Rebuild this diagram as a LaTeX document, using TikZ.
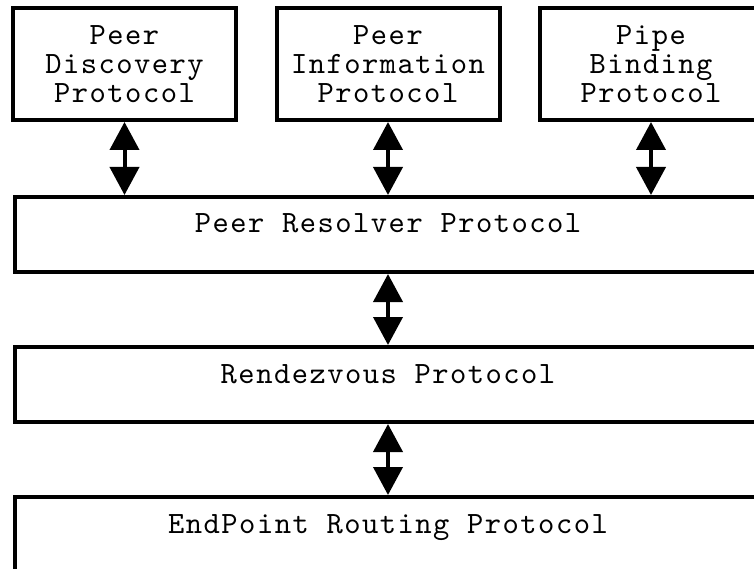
\documentclass[tikz,border=0pt]{standalone}
\usepackage{fontspec}
\newfontfamily\lmmono{lmmono10-regular.otf}[LetterSpace=4.8]
\usetikzlibrary{arrows.meta}
\newcommand\protofont{\lmmono\fontsize{31}{28.7}\selectfont}
\tikzset{
  proto/.style = {
    draw, line width=4pt, align=center,
    minimum width=223pt, minimum height=112pt, inner sep=0pt,
    font=\protofont
  },
  layer/.style = {
    draw, line width=4pt, anchor=north west,
    minimum width=800pt, minimum height=75pt, inner sep=0pt
  },
  ptext/.style = {
    anchor=base, inner sep=0pt,
    font=\protofont
  },
  biarrow/.style = {
    {Triangle[length=28pt,width=29pt]}-{Triangle[length=28pt,width=29pt]},
    line width=4pt
  }
}

\begin{document}
\begin{tikzpicture}[x=1pt,y=-1pt]
  \useasboundingbox (0,0) rectangle (754,569);
  \clip (0,0) rectangle (754,569);
  % top protocols
  \node[proto] (pdp) at (124.5,64) {Peer\\Discovery\\Protocol};
  \node[proto] (pip) at (388,64) {Peer\\Information\\Protocol};
  \node[proto] (pbp) at (651,64) {Pipe\\Binding\\Protocol};
  % layers
  \node[layer] (prp) at (13,195) {};
  \node[ptext] (prptext) at (388,233) {Peer Resolver Protocol};
  \node[layer] (rvp) at (13,345) {};
  \node[ptext] (rvptext) at (388,383) {Rendezvous Protocol};
  \node[layer,minimum height=110pt] (erp) at (13,495) {};
  \node[ptext] (erptext) at (388,533) {EndPoint Routing Protocol};
  % arrows
  \foreach \P in {pdp,pip,pbp} {
    \draw[biarrow] (\P.south) -- (\P.south |- prp.north);
  }
  \draw[biarrow] (prptext |- prp.south) -- (prptext |- rvp.north);
  \draw[biarrow] (rvptext |- rvp.south) -- (rvptext |- erp.north);
\end{tikzpicture}
\end{document}
